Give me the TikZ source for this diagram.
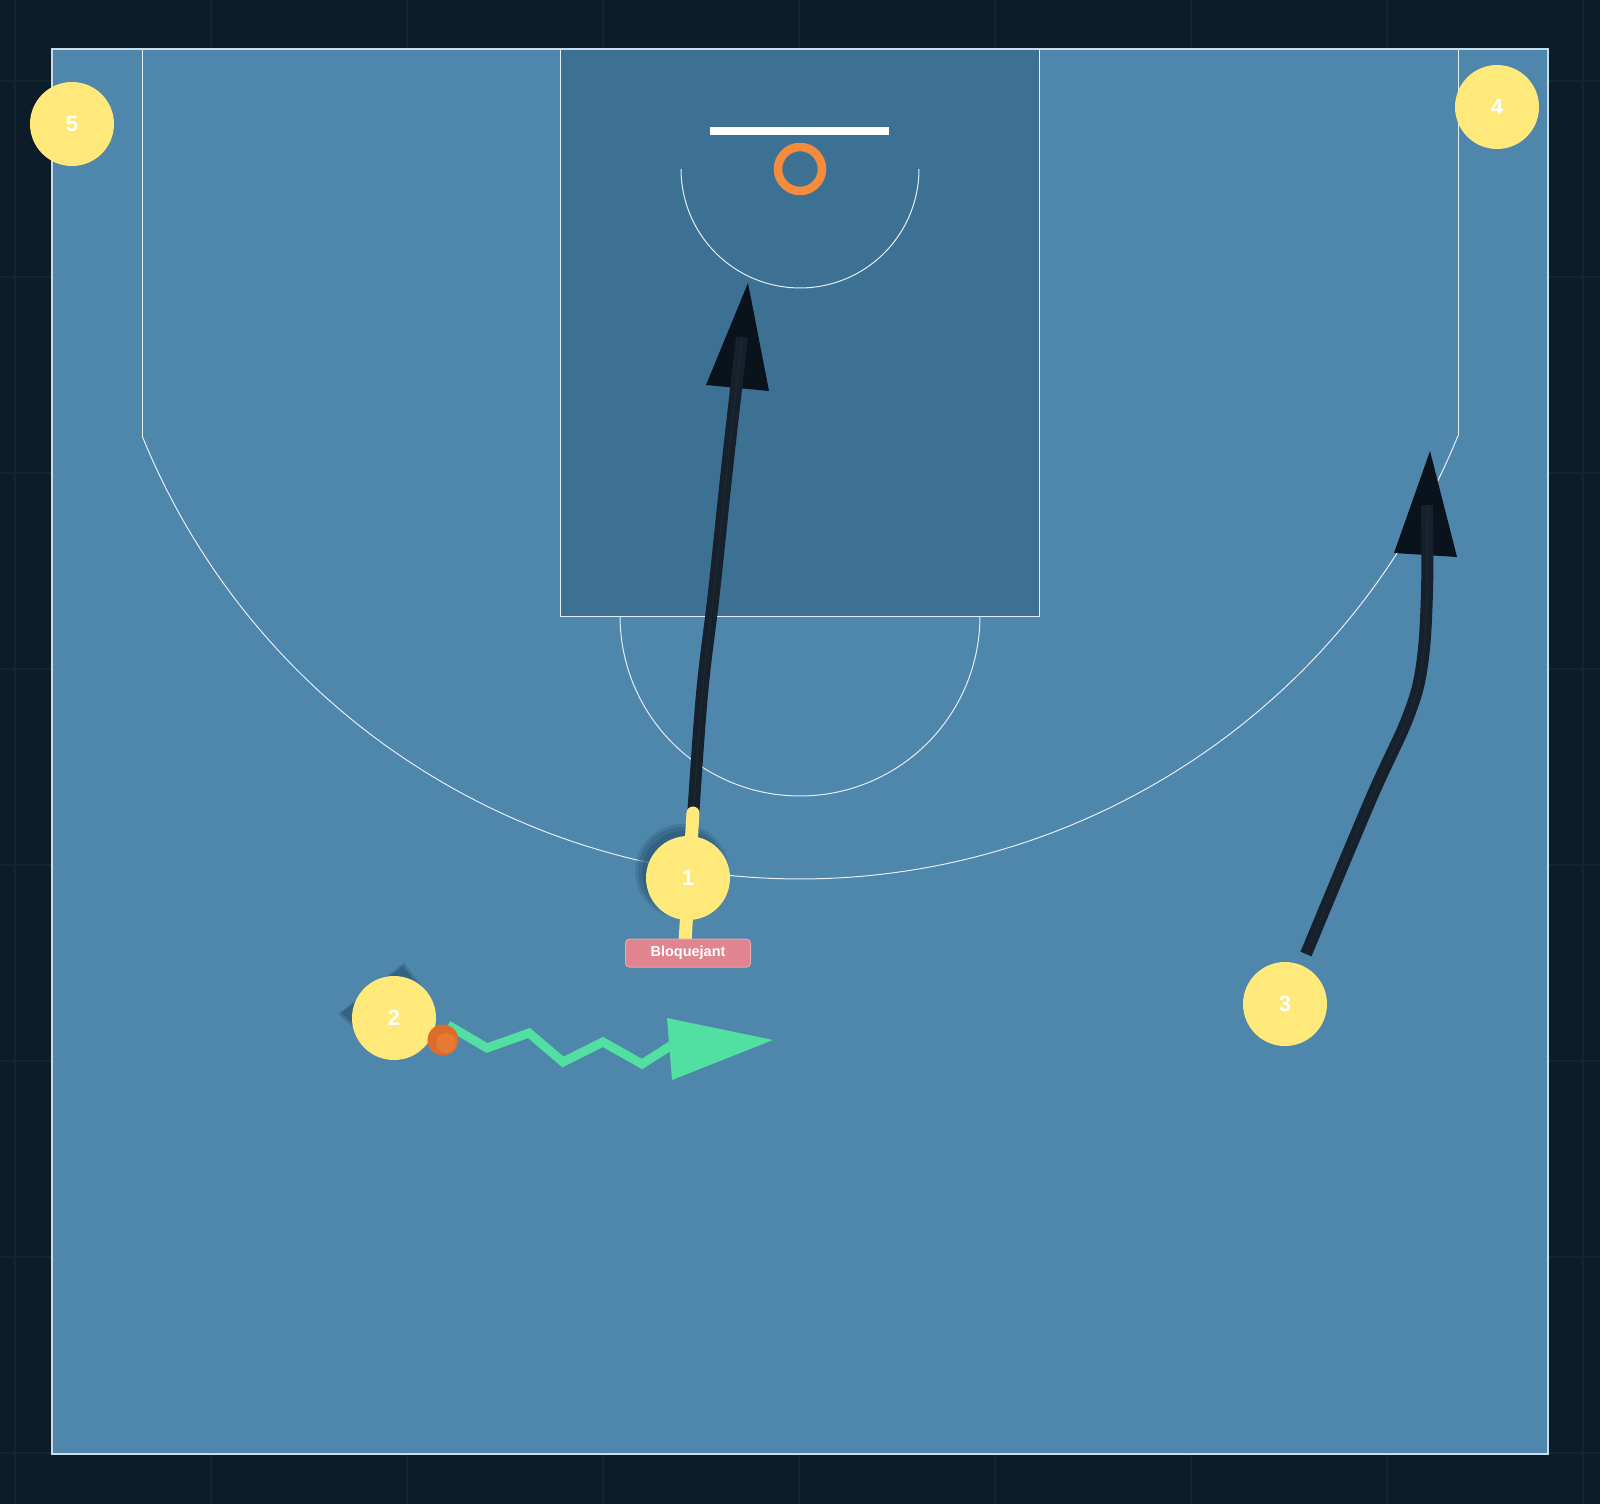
\documentclass[tikz,border=0pt]{standalone}
\usepackage{fontspec}
\setmainfont{Liberation Sans}
\definecolor{bgc}{HTML}{0C1C28}
\definecolor{gridc}{HTML}{142532}
\definecolor{courtc}{HTML}{4F86AB}
\definecolor{paintc}{HTML}{3D7194}
\definecolor{edgec}{HTML}{C9DCEA}
\definecolor{arcc}{HTML}{E4EEF5}
\definecolor{playerc}{HTML}{FFE97A}
\definecolor{shadowc}{HTML}{2A5474}
\definecolor{tagc}{HTML}{E0848F}
\definecolor{tagedge}{HTML}{EFA3AC}
\definecolor{dribc}{HTML}{52E0A2}
\definecolor{runc}{HTML}{17212B}
\definecolor{runmid}{HTML}{1D2934}
\definecolor{tipc}{HTML}{0A131B}
\definecolor{rimc}{HTML}{F58B3C}
\definecolor{ballc}{HTML}{DC6C2B}
\definecolor{ballhi}{HTML}{F58A3E}
\tikzset{
  gridline/.style={draw=gridc, line width=1.2pt},
  courtline/.style={draw=arcc, line width=1pt},
  player/.style={circle, fill=playerc, minimum size=84pt, inner sep=0pt, text=white,
    font=\bfseries\fontsize{22}{22}\selectfont},
  tagbox/.style={rectangle, rounded corners=4pt, fill=tagc, draw=tagedge, line width=1pt,
    minimum width=125pt, minimum height=28pt, inner sep=0pt, text=white,
    font=\bfseries\fontsize{14.5}{15}\selectfont},
  runline/.style={draw=runc, line width=12pt},
  runcore/.style={draw=runmid, line width=1pt},
  runtip/.style={fill=tipc},
  dribline/.style={draw=dribc, line width=9pt, line join=miter},
  stubline/.style={draw=playerc, line width=13pt, line cap=round},
}
\begin{document}
\begin{tikzpicture}[x=1pt,y=-1pt]
\useasboundingbox (0,0) rectangle (1600,1504);
\fill[bgc] (0,0) rectangle (1600,1504);
\foreach \gx in {15,211,...,1583} \draw[gridline] (\gx,0) -- (\gx,1504);
\foreach \gy in {81,277,...,1453} \draw[gridline] (0,\gy) -- (1600,\gy);
% court
\fill[courtc] (52,49) rectangle (1548,1454);
\fill[paintc] (560,49) rectangle (1039,616);
\draw[courtline] (560,49) rectangle (1039,616);
\draw[courtline] (142,49) -- (142,436);
\draw[courtline] (1458,49) -- (1458,436);
\draw[courtline] plot[domain=22.09:157.91, samples=120] ({800+710*cos(\x)}, {169+710*sin(\x)});
\draw[courtline] plot[domain=0:180, samples=80] ({800+180*cos(\x)}, {616+180*sin(\x)});
\draw[courtline] plot[domain=0:180, samples=60] ({800+119*cos(\x)}, {169+119*sin(\x)});
\draw[draw=edgec, line width=1.6pt] (52,49) rectangle (1548,1454);
% basket
\fill[white] (710,127) rectangle (889,135);
\node[circle, draw=rimc, line width=8.5pt, minimum size=44pt, inner sep=0pt] (rim) at (800,169) {};
% shadows
\fill[shadowc, opacity=0.25] (682,871) circle (47pt);
\fill[shadowc, opacity=0.35] (682,871) circle (44pt);
\fill[shadowc, opacity=0.45] (683,872) circle (41pt);
\fill[shadowc, opacity=0.55] (403,966) -- (341,1013) -- (372,1040) -- (425,995) -- cycle;
\fill[shadowc, opacity=0.35] (404,963) -- (338,1014) -- (372,1043) -- (428,994) -- cycle;
% run of player 1
\coordinate (r1s) at (693,818);
\coordinate (r1e) at (742,337);
\coordinate (r1tip) at (748,283);
\fill[runtip] (r1tip) -- (706,385) -- (769,391) -- cycle;
\draw[runline] plot[smooth, tension=0.6] coordinates {(r1s) (702,694) (714,592) (727,469) (r1e)};
\draw[runcore] plot[smooth, tension=0.6] coordinates {(r1s) (702,694) (714,592) (727,469) (r1e)};
% run of player 3
\coordinate (r3s) at (1306,954);
\coordinate (r3e) at (1427,505);
\coordinate (r3tip) at (1430,451);
\fill[runtip] (r3tip) -- (1394,553) -- (1457,557) -- cycle;
\draw[runline] plot[smooth, tension=0.6] coordinates {(r3s) (1370,801) (1408,717) (1422,665) (1427,592) (r3e)};
\draw[runcore] plot[smooth, tension=0.6] coordinates {(r3s) (1370,801) (1408,717) (1422,665) (1427,592) (r3e)};
% screen stub
\coordinate (s1top) at (693,813);
\coordinate (s1bot) at (685,942);
\draw[stubline] (s1top) -- (s1bot);
% players
\node[player] (p1) at (688,878) {1};
\node[player] (p2) at (394,1018) {2};
\node[player] (p3) at (1285,1004) {3};
\node[player] (p4) at (1497,107) {4};
\node[player] (p5) at (72,124) {5};
\node[tagbox] (tag) at (688,953) {Bloquejant};
% dribble
\coordinate (d0) at (448,1025);
\coordinate (dtip) at (773,1040);
\draw[dribline] (d0) -- (487,1048) -- (529,1033) -- (563,1062) -- (603,1042) -- (642,1064) -- (675,1043);
\fill[dribc] (dtip) -- (667,1018) -- (672,1080) -- cycle;
\node[circle, fill=ballc, minimum size=31pt, inner sep=0pt] (ball) at (443,1040) {};
\fill[ballhi, opacity=0.45] (446,1043) circle (10pt);
\end{tikzpicture}
\end{document}
